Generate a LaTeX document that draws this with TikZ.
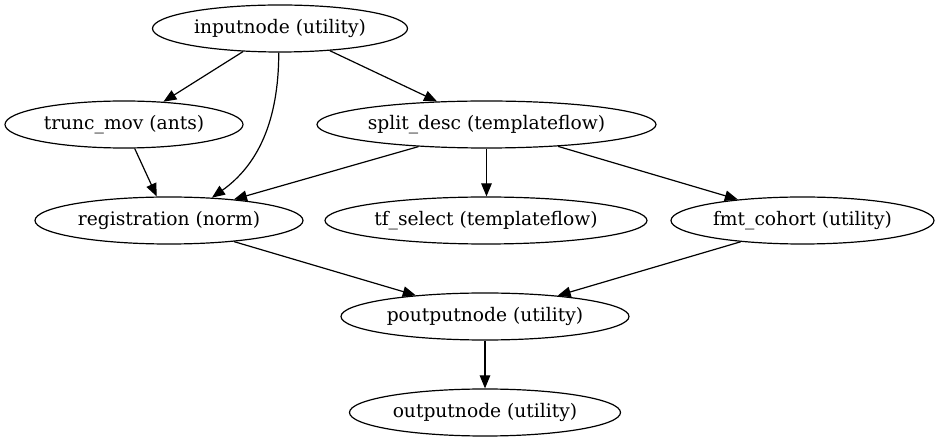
\documentclass[tikz,border=0pt]{standalone}
\usepackage{fontspec}
\setmainfont{DejaVu Serif}
\usetikzlibrary{shapes.geometric,arrows.meta}
\begin{document}
\begin{tikzpicture}[x=1pt,y=-1pt,
  nd/.style={ellipse,draw,line width=1.2pt,inner sep=0pt,minimum height=47pt,font=\fontsize{18.67}{22}\selectfont},
  edge/.style={line width=1.2pt,-{Triangle[length=13pt,width=10.5pt]}}]
\useasboundingbox (0,0) rectangle (940,443);
\node[nd,minimum width=255pt] (in) at (280,28.5) {inputnode (utility)};
\node[nd,minimum width=238pt] (trunc) at (124,124.5) {trunc\_mov (ants)};
\node[nd,minimum width=339pt] (split) at (486.5,124.5) {split\_desc (templateflow)};
\node[nd,minimum width=268pt] (reg) at (169,220.5) {registration (norm)};
\node[nd,minimum width=322pt] (tf) at (486,220.5) {tf\_select (templateflow)};
\node[nd,minimum width=263pt] (fmt) at (802.5,220.5) {fmt\_cohort (utility)};
\node[nd,minimum width=288pt] (pout) at (485,316.5) {poutputnode (utility)};
\node[nd,minimum width=271pt] (out) at (485,412.5) {outputnode (utility)};
\draw[edge] (in.212) -- (trunc.30.6);
\draw[edge] (in.-93) .. controls +(0,70) and +(45,-32) .. (reg.28.7);
\draw[edge] (in.-24.1) -- (split.155.6);
\draw[edge] (trunc.-66.7) -- (reg.117);
\draw[edge] (split.-162.5) -- (reg.18.1);
\draw[edge] (split.south) -- (split.south |- tf.north);
\draw[edge] (split.-17.7) -- (fmt.162.3);
\draw[edge] (reg.-18.3) -- (pout.163.4);
\draw[edge] (fmt.-161.8) -- (pout.16.6);
\draw[edge] (pout.south) -- (pout.south |- out.north);
\end{tikzpicture}
\end{document}
